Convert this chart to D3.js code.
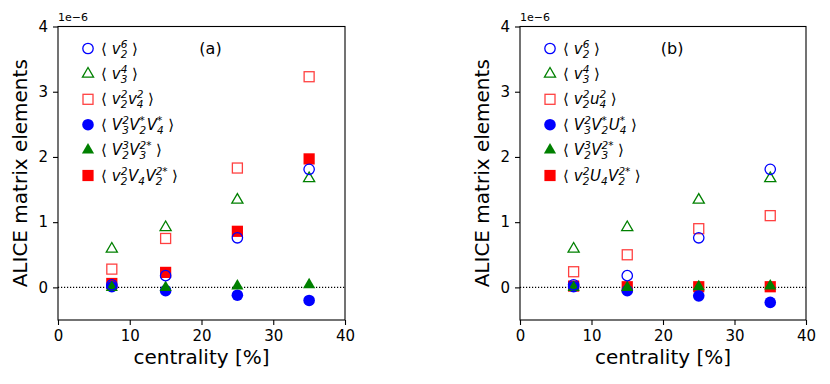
<!DOCTYPE html>
<html>
<head>
<meta charset="utf-8">
<script src="https://d3js.org/d3.v7.min.js"></script>
<style>
  body { margin: 0; background: #fff; }
  text { font-family: "DejaVu Sans", sans-serif; }
</style>
</head>
<body>
<svg id="chart" width="830" height="384"></svg>
<script>
// centrality bins [%]
const centrality = [7.5, 15, 25, 35];

// panel (a) values, units of 1e-6
const a_v2_6      = [0.04, 0.18, 0.76, 1.81];
const a_v3_4      = [0.59, 0.92, 1.34, 1.67];
const a_v2v4      = [0.28, 0.75, 1.83, 3.23];
const a_V3V2V4    = [0.01, -0.05, -0.12, -0.20];
const a_V2V3      = [0.00, 0.00, 0.02, 0.04];
const a_v2V4V2    = [0.06, 0.23, 0.86, 1.97];

// panel (b) values, units of 1e-6
const b_v2_6      = [0.04, 0.18, 0.76, 1.81];
const b_v3_4      = [0.59, 0.92, 1.34, 1.67];
const b_v2u4      = [0.24, 0.50, 0.90, 1.10];
const b_V3V2U4    = [0.01, -0.05, -0.13, -0.23];
const b_V2V3      = [0.00, 0.00, 0.01, 0.02];
const b_v2U4V2    = [0.02, 0.01, 0.01, 0.01];

// legend labels: each term is [base, subscript, superscript]
const labelsA = [
  [["v","2","6"]],
  [["v","3","4"]],
  [["v","2","2"],["v","4","2"]],
  [["V","3","2"],["V","2","*"],["V","4","*"]],
  [["V","2","3"],["V","3","2*"]],
  [["v","2","2"],["V","4",""],["V","2","2*"]]
];
const labelsB = [
  [["v","2","6"]],
  [["v","3","4"]],
  [["v","2","2"],["u","4","2"]],
  [["V","3","2"],["V","2","*"],["U","4","*"]],
  [["V","2","3"],["V","3","2*"]],
  [["v","2","2"],["U","4",""],["V","2","2*"]]
];

const xTicks = [0, 10, 20, 30, 40];
const yTicks = [0, 1, 2, 3, 4];

// marker styles in legend order
const styles = [
  {shape: "circle",   color: "#0000ff", fill: false},
  {shape: "triangle", color: "#008000", fill: false},
  {shape: "square",   color: "#ff0000", fill: false},
  {shape: "circle",   color: "#0000ff", fill: true},
  {shape: "triangle", color: "#008000", fill: true},
  {shape: "square",   color: "#ff0000", fill: true}
];
// draw order (filled first, open on top)
const drawOrder = [5, 3, 4, 2, 1, 0];

const svg = d3.select("#chart");

function marker(g, s, cx, cy) {
  let el;
  if (s.shape === "circle") {
    el = g.append("circle").attr("cx", cx).attr("cy", cy).attr("r", s.fill ? 5.8 : 5.2);
  } else if (s.shape === "square") {
    const h = s.fill ? 5.6 : 5;
    el = g.append("rect").attr("x", cx - h).attr("y", cy - h).attr("width", 2*h).attr("height", 2*h);
  } else {
    const r = s.fill ? 7 : 6.4;
    const pts = [[cx, cy - r], [cx - r*0.87, cy + r*0.5], [cx + r*0.87, cy + r*0.5]];
    el = g.append("path").attr("d", "M" + pts.join("L") + "Z");
  }
  if (s.fill) {
    el.attr("fill", s.color);
  } else {
    el.attr("fill", "none").attr("stroke", s.color).attr("stroke-width", 1.3)
      .attr("stroke-opacity", s.shape === "square" ? 0.75 : 1);
  }
}

// one text element, sub/superscripts stacked with tspans
function mathLabel(g, x, y, terms) {
  const fs = 15, sfs = 10.5;
  const t = g.append("text").attr("x", x).attr("y", y).attr("font-size", fs);
  let base = 0; // current baseline offset
  function span(str, size, yOff, italic, dx) {
    const s = t.append("tspan").attr("font-size", size).attr("dy", yOff - base).text(str);
    base = yOff;
    if (italic) s.attr("font-style", "italic");
    if (dx) s.attr("dx", dx);
    return s.node().getComputedTextLength();
  }
  span("\u27E8", fs, 0, false, 0);
  let pend = 5;
  terms.forEach(function(tm) {
    span(tm[0], fs, 0, true, pend);
    const w1 = span(tm[1], sfs, 4, true, 0);
    if (tm[2]) {
      const w2 = span(tm[2], sfs, -6, true, -w1);
      pend = Math.max(0, w1 - w2) + 0.5;
    } else {
      pend = 0.5;
    }
  });
  span("\u27E9", fs, 0, false, pend + 4);
}

function panel(left, right, series, labels, tag) {
  const top = 26.5, bottom = 320;
  const x = d3.scaleLinear().domain([0, 40]).range([left, right]);
  const y = d3.scaleLinear().domain([-0.5, 4]).range([bottom, top]);
  const g = svg.append("g");

  // zero line
  g.append("line").attr("x1", left).attr("x2", right)
    .attr("y1", y(0)).attr("y2", y(0))
    .attr("stroke", "#000").attr("stroke-width", 1.1).attr("stroke-dasharray", "1.2,1.8");

  // data
  const pg = g.append("g");
  drawOrder.forEach(function(i) {
    series[i].forEach(function(v, j) {
      marker(pg, styles[i], x(centrality[j]), y(v));
    });
  });

  // axes
  const ax = g.append("g").attr("transform", "translate(0," + bottom + ")")
    .call(d3.axisBottom(x).tickValues(xTicks).tickSize(5).tickPadding(5).tickFormat(d3.format("d")));
  const ay = g.append("g").attr("transform", "translate(" + left + ",0)")
    .call(d3.axisLeft(y).tickValues(yTicks).tickSize(5).tickPadding(5).tickFormat(d3.format("d")));
  [ax, ay].forEach(function(a) {
    a.select(".domain").remove();
    a.selectAll("line").attr("stroke-width", 1.1);
    a.selectAll("text").attr("font-size", 15).attr("font-family", "DejaVu Sans").attr("fill", "#000");
  });

  g.append("rect").attr("x", left).attr("y", top)
    .attr("width", right - left).attr("height", bottom - top)
    .attr("fill", "none").attr("stroke", "#000").attr("stroke-width", 1.1);

  // offset text
  g.append("text").attr("x", left).attr("y", top - 6).attr("font-size", 11).text("1e\u22126");

  // panel tag
  g.append("text").attr("x", x(19.7)).attr("y", 54).attr("font-size", 16).text(tag);

  // legend
  labels.forEach(function(lb, i) {
    const ly = 48.5 + i * 25.4;
    marker(g, styles[i], left + 30, ly);
    mathLabel(g, left + 43, ly + 5, lb);
  });

  // axis titles
  g.append("text").attr("x", (left + right) / 2).attr("y", 364)
    .attr("text-anchor", "middle").attr("font-size", 20).text("centrality [%]");
  g.append("text").attr("transform", "translate(" + (left - 31) + "," + ((top + bottom) / 2) + ") rotate(-90)")
    .attr("text-anchor", "middle").attr("font-size", 20).text("ALICE matrix elements");
}

panel(58, 345, [a_v2_6, a_v3_4, a_v2v4, a_V3V2V4, a_V2V3, a_v2V4V2], labelsA, "(a)");
panel(520, 806, [b_v2_6, b_v3_4, b_v2u4, b_V3V2U4, b_V2V3, b_v2U4V2], labelsB, "(b)");
</script>
</body>
</html>
